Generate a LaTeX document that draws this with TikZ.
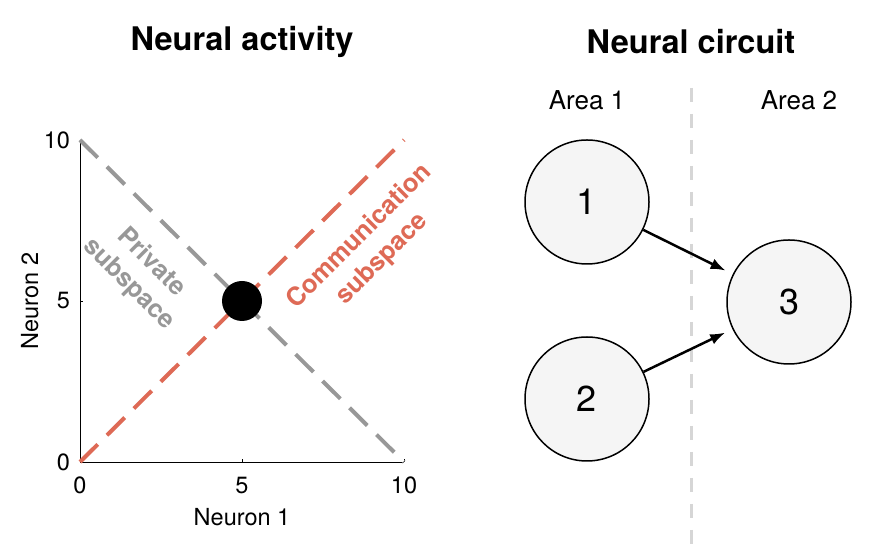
\documentclass[tikz,border=0pt]{standalone}
\usepackage{fontspec}
\setmainfont{TeX Gyre Heros}
\usepackage{tikz}
\usetikzlibrary{arrows.meta}
\definecolor{commred}{RGB}{222,106,86}
\definecolor{privgray}{RGB}{152,152,152}
\definecolor{divgray}{RGB}{214,214,214}
\definecolor{cellfill}{RGB}{245,245,245}
\providecommand{\titlefont}{\fontsize{32.5}{38}\selectfont\bfseries}
\providecommand{\labfont}{\fontsize{23.5}{28}\selectfont}
\providecommand{\areafont}{\fontsize{26}{30}\selectfont}
\providecommand{\subfont}{\fontsize{25.5}{31}\selectfont\bfseries}
\providecommand{\cellfont}{\fontsize{36}{42}\selectfont}

\begin{document}
\begin{tikzpicture}[x=1pt,y=1pt,
  cell/.style={circle,draw=black,line width=1.5pt,fill=cellfill,minimum size=124pt,inner sep=0pt,font=\cellfont},
  link/.style={line width=2.5pt,-{Latex[length=15pt,width=11pt]},shorten >=8pt},
  subline/.style={line width=4pt,dash pattern=on 25pt off 13pt}]
\useasboundingbox (0,0) rectangle (878,556);
% Titles
\node[font=\titlefont] (acttitle) at (242,514) {Neural activity};
\node[font=\titlefont] (circtitle) at (691,514) {Neural circuit};
% Left panel: activity space
\begin{scope}[shift={(80pt,94pt)},x=32.4pt,y=32.2pt]
% axes
\draw[line width=0.8pt] (0,10) -- (0,0) -- (10,0);
\draw[line width=0.8pt] (5,0) -- (5,0.1) (10,0) -- (10,0.1);
\draw[line width=0.8pt] (0,5) -- (0.1,5) (0,10) -- (0.1,10);
\node[font=\labfont] (xt0) at (0,-0.72) {0};
\node[font=\labfont] (xt5) at (5,-0.72) {5};
\node[font=\labfont] (xt10) at (10,-0.72) {10};
\node[font=\labfont,anchor=east] (yt0) at (-0.2,0) {0};
\node[font=\labfont,anchor=east] (yt5) at (-0.2,5) {5};
\node[font=\labfont,anchor=east] (yt10) at (-0.2,10) {10};
\node[font=\labfont] (xlab) at (5,-1.71) {Neuron 1};
\node[font=\labfont,rotate=90] (ylab) at (-1.55,5) {Neuron 2};
% subspaces
\draw[subline,color=privgray] (0,10) -- (10,0);
\draw[subline,color=commred] (0,0) -- (10,10);
\fill[black] (5,5) circle[radius=20pt];
\node[font=\subfont,text=privgray,align=center,rotate=-45] (privlab) at (1.85,5.85) {Private\\subspace};
\node[font=\subfont,text=commred,align=center,rotate=45] (commlab) at (8.98,6.65) {Communication\\subspace};
\end{scope}
% Right panel: circuit
\draw[divgray,line width=3pt,dash pattern=on 14pt off 12pt] (691,468) -- (691,0);
\node[font=\areafont] (area1) at (587,456) {Area 1};
\node[font=\areafont] (area2) at (799,456) {Area 2};
\node[cell] (c1) at (587,354) {1};
\node[cell] (c2) at (587,157) {2};
\node[cell] (c3) at (789,254) {3};
\draw[link] (c1) -- (c3);
\draw[link] (c2) -- (c3);
\end{tikzpicture}
\end{document}
